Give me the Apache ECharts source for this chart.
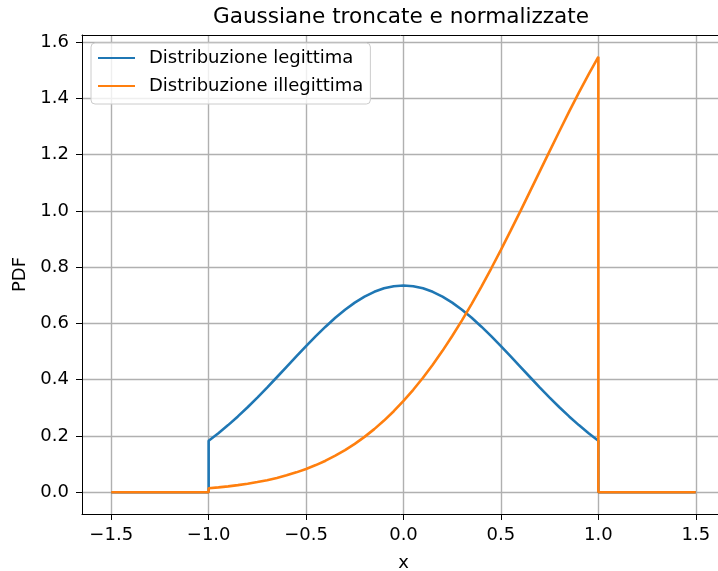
<!DOCTYPE html>
<html>
<head>
<meta charset="utf-8">
<script src="https://cdn.jsdelivr.net/npm/echarts@6/dist/echarts.min.js"></script>
<style>
  html, body { margin: 0; padding: 0; background: #ffffff; }
  #chart { width: 718px; height: 571px; }
</style>
</head>
<body>
<div id="chart"></div>
<script>
// Sample points of the two truncated, normalised densities (zero outside [-1, 1])
const xPoints = [-1.5, -1.0,
  -1.00, -0.95, -0.90, -0.85, -0.80, -0.75, -0.70, -0.65, -0.60, -0.55,
  -0.50, -0.45, -0.40, -0.35, -0.30, -0.25, -0.20, -0.15, -0.10, -0.05,
   0.00,  0.05,  0.10,  0.15,  0.20,  0.25,  0.30,  0.35,  0.40,  0.45,
   0.50,  0.55,  0.60,  0.65,  0.70,  0.75,  0.80,  0.85,  0.90,  0.95,
   1.00,
  1.0, 1.5];
const legitPdf = [0, 0,
  0.1833, 0.2098, 0.2386, 0.2695, 0.3022, 0.3365, 0.3721, 0.4087, 0.4458, 0.4829,
  0.5194, 0.5548, 0.5885, 0.6200, 0.6486, 0.6739, 0.6953, 0.7124, 0.7249, 0.7324,
  0.7350, 0.7324, 0.7249, 0.7124, 0.6953, 0.6739, 0.6486, 0.6200, 0.5885, 0.5548,
  0.5194, 0.4829, 0.4458, 0.4087, 0.3721, 0.3365, 0.3022, 0.2695, 0.2386, 0.2098,
  0.1833,
  0, 0];
const illegitPdf = [0, 0,
  0.0143, 0.0173, 0.0209, 0.0252, 0.0302, 0.0361, 0.0429, 0.0508, 0.0600, 0.0706,
  0.0827, 0.0965, 0.1121, 0.1298, 0.1497, 0.1720, 0.1968, 0.2243, 0.2547, 0.2880,
  0.3245, 0.3641, 0.4070, 0.4531, 0.5026, 0.5552, 0.6110, 0.6697, 0.7312, 0.7953,
  0.8616, 0.9297, 0.9995, 1.0702, 1.1414, 1.2126, 1.2833, 1.3528, 1.4206, 1.4858,
  1.5480,
  0, 0];

const seriesNames = ['Distribuzione legittima', 'Distribuzione illegittima'];
const xTicks = [-1.5, -1.0, -0.5, 0.0, 0.5, 1.0, 1.5];
const yTicks = [0.0, 0.2, 0.4, 0.6, 0.8, 1.0, 1.2, 1.4, 1.6];

const FONT = 'DejaVu Sans';
const X_MIN = -1.65, X_MAX = 1.65, Y_MIN = -0.0774, Y_MAX = 1.6254;
const pairs = ys => xPoints.map((x, i) => [x, ys[i]]);
const fmtTick = v => (v < 0 ? '\u2212' + Math.abs(v).toFixed(1) : v.toFixed(1));
const spine = { show: true, onZero: false, lineStyle: { color: '#000000', width: 1 } };
const gridLines = { show: true, lineStyle: { color: '#b0b0b0', width: 1.4 } };

const chart = echarts.init(document.getElementById('chart'), null, { renderer: 'canvas' });
chart.setOption({
  animation: false,
  backgroundColor: '#ffffff',
  title: {
    text: 'Gaussiane troncate e normalizzate',
    left: 396,
    textAlign: 'center',
    top: 1,
    textStyle: { fontFamily: FONT, fontSize: 21.6, fontWeight: 'normal', color: '#000000' }
  },
  legend: {
    orient: 'vertical',
    left: 91,
    top: 43,
    data: seriesNames,
    itemWidth: 37,
    itemHeight: 14,
    itemGap: 10,
    padding: [6, 7, 9, 6],
    backgroundColor: 'rgba(255,255,255,0.8)',
    borderColor: '#cccccc',
    borderWidth: 1,
    borderRadius: 4,
    itemStyle: { opacity: 0 },
    textStyle: { fontFamily: FONT, fontSize: 18, color: '#000000', lineHeight: 18, padding: [0, 0, 0, 9] }
  },
  grid: {
    left: 82, top: 35, width: 643, bottom: 57,
    outerBoundsMode: 'none',
    containLabel: false,
    show: false
  },
  xAxis: [
    {
      type: 'value',
      min: X_MIN, max: X_MAX,
      name: 'x',
      nameLocation: 'middle',
      nameGap: 40,
      nameTextStyle: { fontFamily: FONT, fontSize: 18, color: '#000000' },
      axisLine: spine,
      axisTick: { show: true, inside: false, length: 6, customValues: xTicks, lineStyle: { color: '#000000', width: 1 } },
      axisLabel: { customValues: xTicks, margin: 12, formatter: fmtTick, fontFamily: FONT, fontSize: 18, color: '#000000' },
      splitLine: gridLines
    },
    {
      // top spine of the plot frame
      type: 'value',
      position: 'top',
      min: X_MIN, max: X_MAX,
      axisLine: spine,
      axisTick: { show: false },
      axisLabel: { show: false },
      splitLine: { show: false }
    }
  ],
  yAxis: [
    {
      type: 'value',
      min: Y_MIN, max: Y_MAX,
      name: 'PDF',
      nameLocation: 'middle',
      nameGap: 51,
      nameTextStyle: { fontFamily: FONT, fontSize: 18, color: '#000000' },
      axisLine: spine,
      axisTick: { show: true, inside: false, length: 6, customValues: yTicks, lineStyle: { color: '#000000', width: 1 } },
      axisLabel: { customValues: yTicks, margin: 13, formatter: fmtTick, fontFamily: FONT, fontSize: 18, color: '#000000' },
      splitLine: gridLines
    },
    {
      // right spine of the plot frame
      type: 'value',
      position: 'right',
      min: Y_MIN, max: Y_MAX,
      axisLine: spine,
      axisTick: { show: false },
      axisLabel: { show: false },
      splitLine: { show: false }
    }
  ],
  series: [
    {
      name: seriesNames[0],
      type: 'line',
      data: pairs(legitPdf),
      symbol: 'none',
      color: '#1f77b4',
      lineStyle: { color: '#1f77b4', width: 2.6 },
      z: 2
    },
    {
      name: seriesNames[1],
      type: 'line',
      data: pairs(illegitPdf),
      symbol: 'none',
      color: '#ff7f0e',
      lineStyle: { color: '#ff7f0e', width: 2.6 },
      z: 3
    }
  ]
});
</script>
</body>
</html>
